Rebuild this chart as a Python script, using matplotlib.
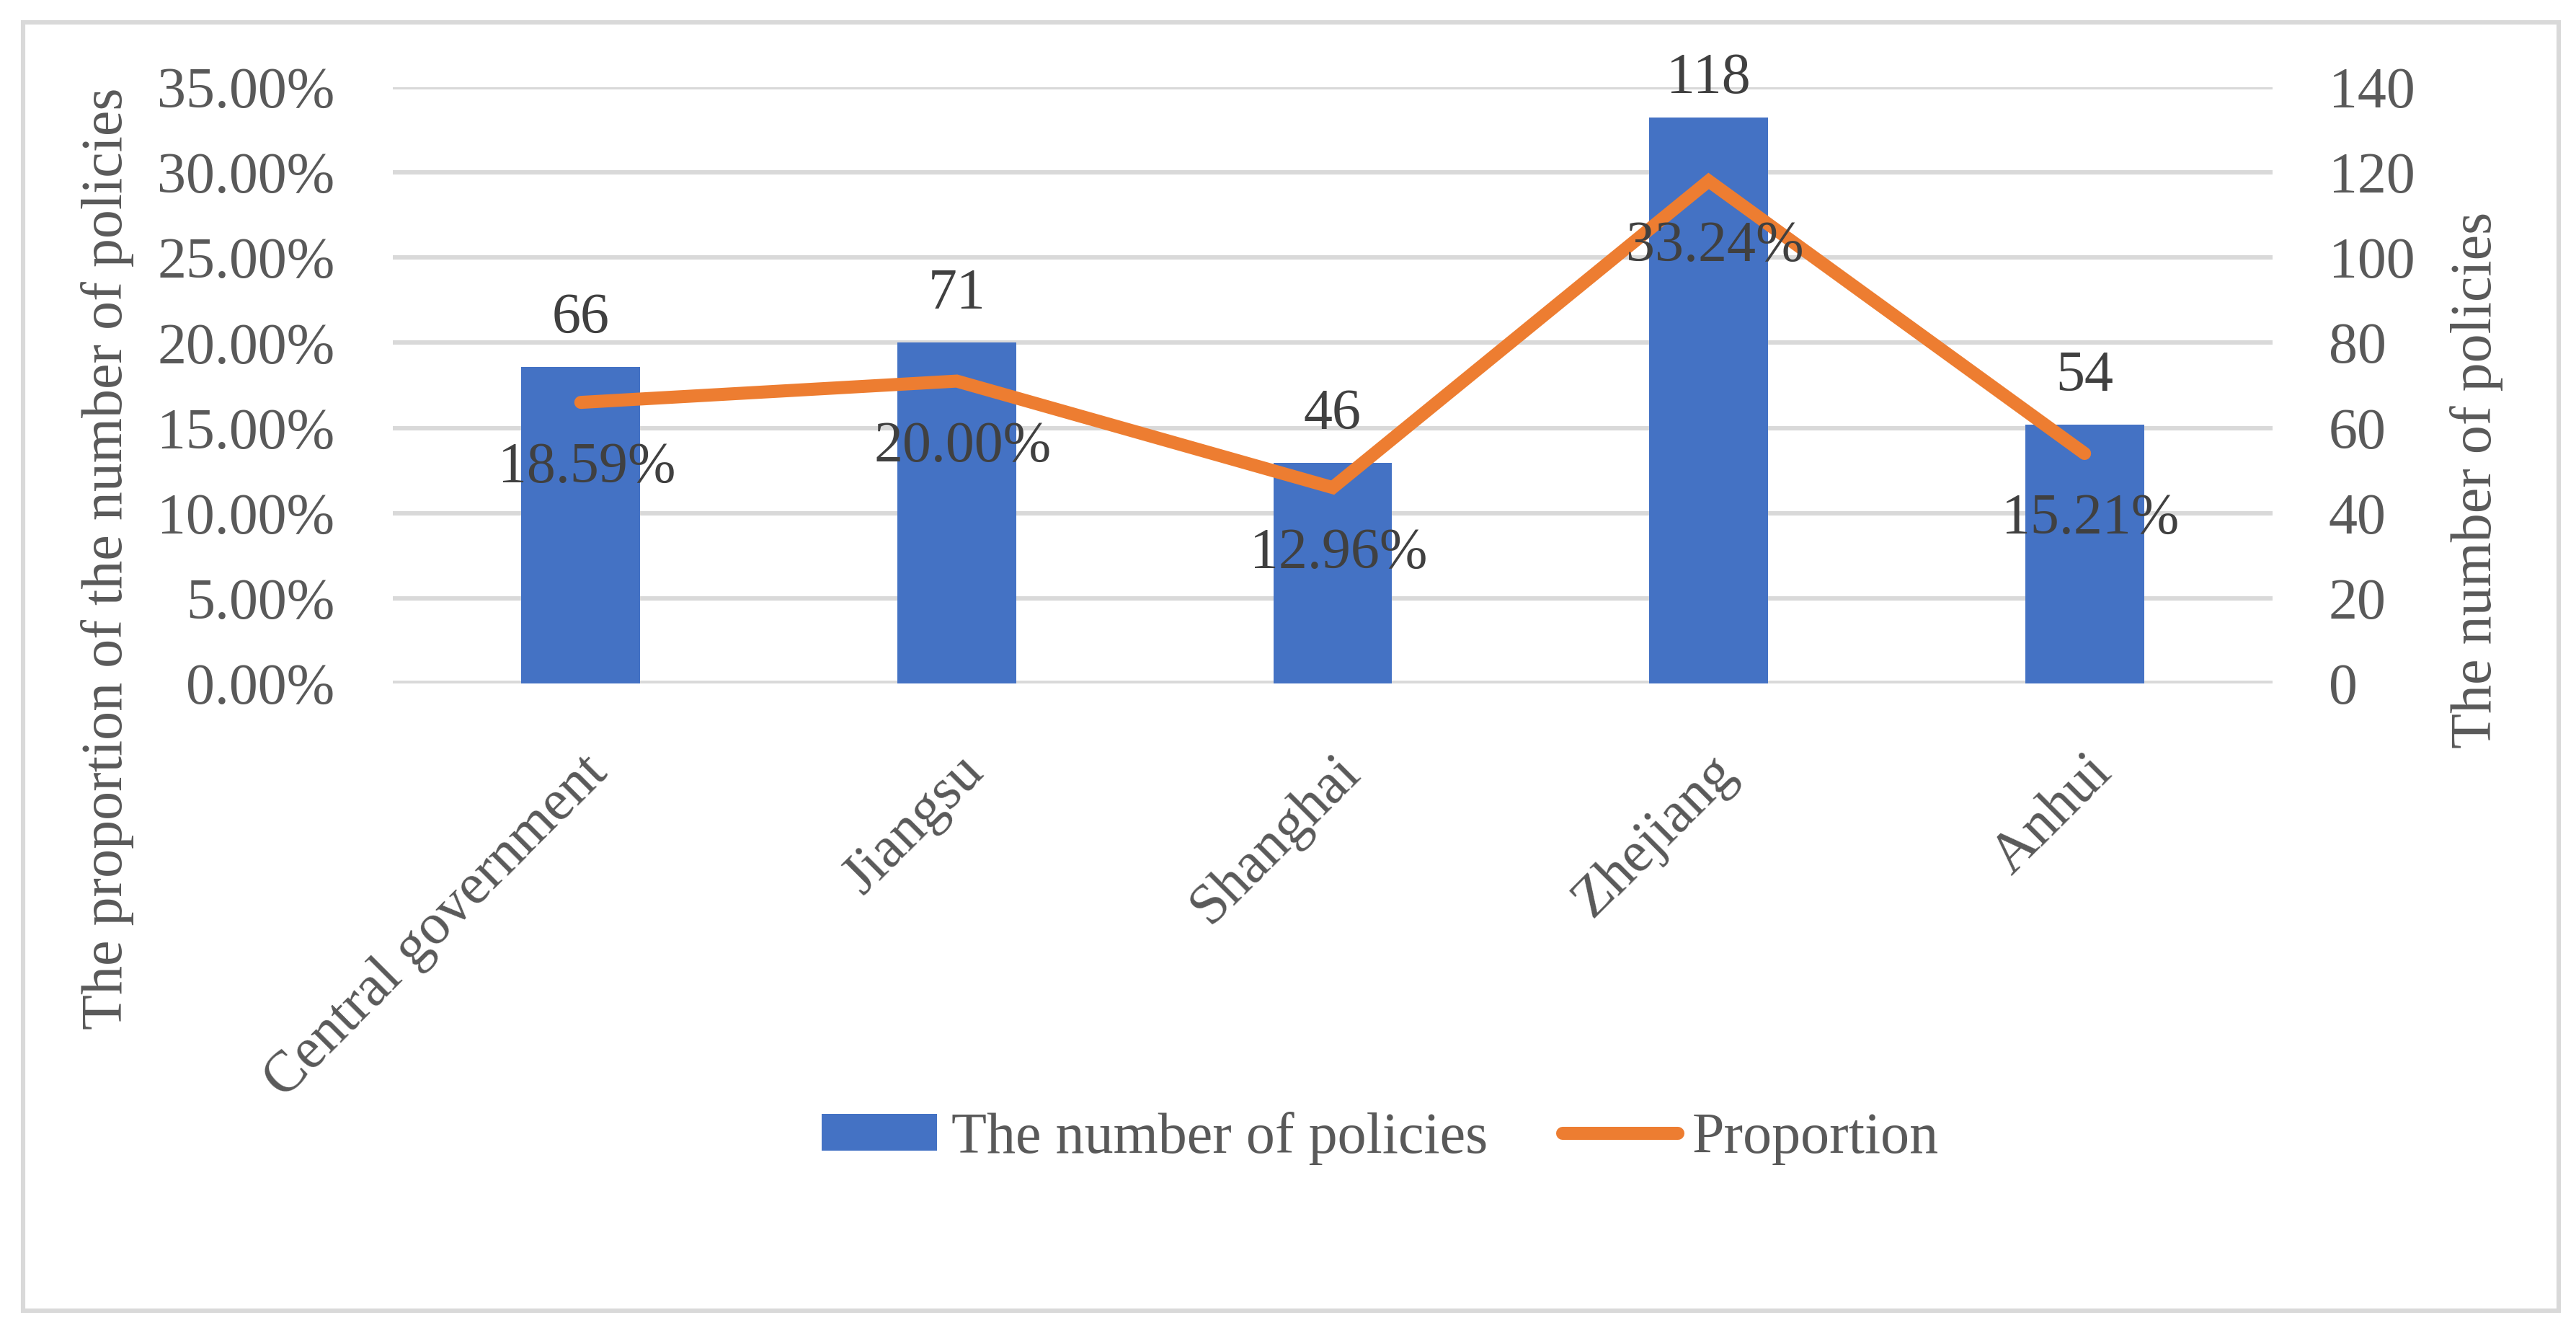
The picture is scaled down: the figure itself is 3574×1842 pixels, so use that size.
import matplotlib
matplotlib.use("Agg")
import matplotlib.pyplot as plt
from matplotlib.patches import Rectangle
from matplotlib.ticker import FuncFormatter

# data
regions = ["Central government", "Jiangsu", "Shanghai", "Zhejiang", "Anhui"]
policy_counts = [66, 71, 46, 118, 54]
proportions = [0.1859, 0.2000, 0.1296, 0.3324, 0.1521]
left_ticks = [0, 0.05, 0.10, 0.15, 0.20, 0.25, 0.30, 0.35]
right_ticks = [0, 20, 40, 60, 80, 100, 120, 140]

BLUE = "#4472C4"
ORANGE = "#ED7D31"
GRID = "#D9D9D9"
TICK_TXT = "#595959"
LABEL_TXT = "#404040"
FONT = ["Liberation Serif", "DejaVu Serif"]
FS = 28.8

plt.rcParams["font.family"] = FONT

W, H, DPI = 3574, 1842, 200
fig = plt.figure(figsize=(W / DPI, H / DPI), dpi=DPI)
ax = fig.add_axes([545 / W, 1 - 948 / H, (3153 - 545) / W, (948 - 121) / H])
ax2 = ax.twinx()

x = list(range(len(regions)))

# bars use the proportion (left axis), labelled with counts
bars = ax.bar(x, proportions, width=0.316, color=BLUE, zorder=2,
              label="The number of policies")
for xi, p, n in zip(x, proportions, policy_counts):
    # keep the label inside the top of the plot like Excel does
    off = 24 if p < 0.32 else 19
    ax.annotate(str(n), (xi, p), xytext=(0, off), textcoords="offset points",
                ha="center", va="center", fontsize=FS, color=LABEL_TXT)

# line uses the counts (right axis), labelled with proportions
line, = ax2.plot(x, policy_counts, color=ORANGE, lw=6.5,
                 solid_capstyle="round", solid_joinstyle="miter", zorder=3,
                 label="Proportion")
for xi, p, n in zip(x, proportions, policy_counts):
    ax2.annotate(f"{p * 100:.2f}%", (xi, n), xytext=(3, -33),
                 textcoords="offset points", ha="center", va="center",
                 fontsize=FS, color=LABEL_TXT, zorder=4)

ax.set_xlim(-0.5, len(regions) - 0.5)
ax.set_ylim(0, 0.35)
ax2.set_ylim(0, 140)
ax.set_yticks(left_ticks)
ax2.set_yticks(right_ticks)
ax.yaxis.set_major_formatter(FuncFormatter(lambda v, _: f"{v * 100:.2f}%"))

for a in (ax, ax2):
    for s in a.spines.values():
        s.set_visible(False)
    a.tick_params(length=0, labelsize=FS, labelcolor=TICK_TXT)
ax.tick_params(axis="y", pad=29)
ax2.tick_params(axis="y", pad=28)

ax.set_axisbelow(True)
ax.yaxis.grid(True, color=GRID, lw=2.2)
ax.axhline(0, color=GRID, lw=2.8, zorder=1)

ax.set_xticks(x)
ax.set_xticklabels(regions, rotation=45, ha="right", rotation_mode="anchor",
                   fontsize=FS, color=TICK_TXT)
ax.tick_params(axis="x", pad=31)

fig.text(149 / W, 1 - 775 / H, "The proportion of the number of policies",
         rotation=90, ha="center", va="center", fontsize=FS, color=TICK_TXT)
fig.text(3436 / W, 1 - 666 / H, "The number of policies",
         rotation=90, ha="center", va="center", fontsize=FS, color=TICK_TXT)

fig.legend([bars, line], ["The number of policies", "Proportion"],
           loc="center", bbox_to_anchor=(1915 / W, 1 - 1579 / H), ncol=2,
           frameon=False, fontsize=FS, labelcolor=TICK_TXT,
           handlelength=2.0, handleheight=0.6, handletextpad=0.25,
           columnspacing=1.3)

fig.patches.append(Rectangle((32 / W, 1 - 1818 / H), (3550 - 32) / W,
                             (1818 - 31) / H, transform=fig.transFigure,
                             fill=False, edgecolor=GRID, lw=2.2))

fig.savefig("out.png", dpi=DPI)
